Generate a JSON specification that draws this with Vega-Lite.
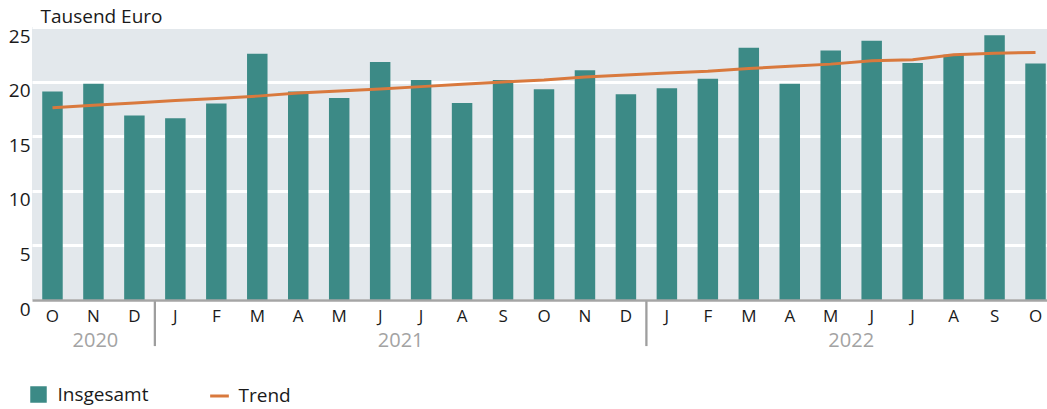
{
  "$schema": "https://vega.github.io/schema/vega-lite/v6.json",
  "width": 1015,
  "height": 273,
  "autosize": {"type": "none"},
  "padding": {"left": 32, "top": 27, "right": 0, "bottom": 109},
  "background": "white",
  "config": {
    "view": {"fill": "#e3e8ec", "stroke": null},
    "font": "Open Sans",
    "axis": {"labelColor": "#1a1a1a", "titleColor": "#1a1a1a", "labelFont": "Open Sans", "titleFont": "Open Sans"},
    "legend": {"labelColor": "#1a1a1a", "labelFont": "Open Sans"}
  },
  "data": {
    "values": [
      {"m": "2020-10", "value": 19.1, "trend": 17.6},
      {"m": "2020-11", "value": 19.8, "trend": 17.84},
      {"m": "2020-12", "value": 16.9, "trend": 18.05},
      {"m": "2021-01", "value": 16.65, "trend": 18.27},
      {"m": "2021-02", "value": 18.0, "trend": 18.45},
      {"m": "2021-03", "value": 22.55, "trend": 18.67},
      {"m": "2021-04", "value": 19.1, "trend": 18.95},
      {"m": "2021-05", "value": 18.5, "trend": 19.14},
      {"m": "2021-06", "value": 21.8, "trend": 19.32},
      {"m": "2021-07", "value": 20.15, "trend": 19.54},
      {"m": "2021-08", "value": 18.05, "trend": 19.75},
      {"m": "2021-09", "value": 20.15, "trend": 19.97},
      {"m": "2021-10", "value": 19.3, "trend": 20.15},
      {"m": "2021-11", "value": 21.05, "trend": 20.43},
      {"m": "2021-12", "value": 18.85, "trend": 20.6},
      {"m": "2022-01", "value": 19.4, "trend": 20.78},
      {"m": "2022-02", "value": 20.25, "trend": 20.94},
      {"m": "2022-03", "value": 23.1, "trend": 21.2},
      {"m": "2022-04", "value": 19.8, "trend": 21.4},
      {"m": "2022-05", "value": 22.85, "trend": 21.6},
      {"m": "2022-06", "value": 23.75, "trend": 21.9},
      {"m": "2022-07", "value": 21.7, "trend": 22.0},
      {"m": "2022-08", "value": 22.45, "trend": 22.45},
      {"m": "2022-09", "value": 24.25, "trend": 22.6},
      {"m": "2022-10", "value": 21.65, "trend": 22.66}
    ]
  },
  "layer": [
    {
      "mark": {"type": "bar"},
      "encoding": {
        "x": {
          "field": "m",
          "type": "ordinal",
          "scale": {"type": "band", "range": [0, 1024], "paddingInner": 0.5, "paddingOuter": 0.25},
          "axis": {
            "orient": "bottom",
            "title": null,
            "zindex": 1,
            "domain": true,
            "domainColor": "#a5a5a5",
            "domainWidth": 2.5,
            "grid": false,
            "ticks": false,
            "labelPadding": 8,
            "labelAngle": 0,
            "labelFontSize": 17,
            "labelBaseline": "top",
            "labelExpr": "['J','F','M','A','M','J','J','A','S','O','N','D'][toNumber(slice(datum.value,5))-1]"
          }
        },
        "y": {
          "field": "value",
          "type": "quantitative",
          "title": "Tausend Euro",
          "scale": {"domain": [0, 25], "nice": false},
          "axis": {
            "title": "Tausend Euro",
            "values": [0, 5, 10, 15, 20, 25],
            "grid": true,
            "gridColor": "#ffffff",
            "gridWidth": 3,
            "domain": false,
            "ticks": false,
            "labelFontSize": 19,
            "labelBaseline": "top",
            "labelPadding": 2,
            "titleAngle": 0,
            "titleAlign": "left",
            "titleBaseline": "alphabetic",
            "titleX": 8,
            "titleY": -5,
            "titleFontSize": 19,
            "titleFontWeight": "normal"
          }
        },
        "fill": {
          "datum": "Insgesamt",
          "scale": {"range": ["#3c8a86"]},
          "legend": {
            "title": null,
            "orient": "none",
            "legendX": -3,
            "legendY": 358,
            "symbolType": "square",
            "symbolSize": 272,
            "symbolStrokeWidth": 0,
            "labelFontSize": 19,
            "labelOffset": 9.5,
            "padding": 0
          }
        }
      }
    },
    {
      "mark": {"type": "line", "strokeWidth": 3},
      "encoding": {
        "x": {"field": "m", "type": "ordinal"},
        "y": {"field": "trend", "type": "quantitative", "title": "Tausend Euro"},
        "stroke": {
          "datum": "Trend",
          "scale": {"range": ["#d9793d"]},
          "legend": {
            "title": null,
            "orient": "none",
            "legendX": 176.5,
            "legendY": 358,
            "symbolType": "stroke",
            "symbolSize": 350,
            "symbolStrokeWidth": 3,
            "labelFontSize": 19,
            "labelOffset": 8,
            "padding": 0
          }
        }
      }
    },
    {
      "data": {"values": [{"m": "2021-01"}, {"m": "2022-01"}]},
      "mark": {"type": "rule", "color": "#9e9e9e", "strokeWidth": 2.3, "xOffset": -10.24},
      "encoding": {
        "x": {"field": "m", "type": "ordinal", "bandPosition": 0},
        "y": {"datum": 0, "type": "quantitative"},
        "y2": {"datum": -4.22}
      }
    },
    {
      "data": {"values": [{"m": "2020-11", "year": "2020"}]},
      "mark": {"type": "text", "color": "#a3a3a3", "fontSize": 20, "baseline": "alphabetic", "align": "center", "dx": 2},
      "encoding": {
        "x": {"field": "m", "type": "ordinal", "bandPosition": 0.5},
        "y": {"datum": -4.3, "type": "quantitative"},
        "text": {"field": "year"}
      }
    },
    {
      "data": {"values": [{"m": "2021-06", "year": "2021"}, {"m": "2022-05", "year": "2022"}]},
      "mark": {"type": "text", "color": "#a3a3a3", "fontSize": 20, "baseline": "alphabetic", "align": "center", "xOffset": 10.24},
      "encoding": {
        "x": {"field": "m", "type": "ordinal", "bandPosition": 1},
        "y": {"datum": -4.3, "type": "quantitative"},
        "text": {"field": "year"}
      }
    }
  ]
}
